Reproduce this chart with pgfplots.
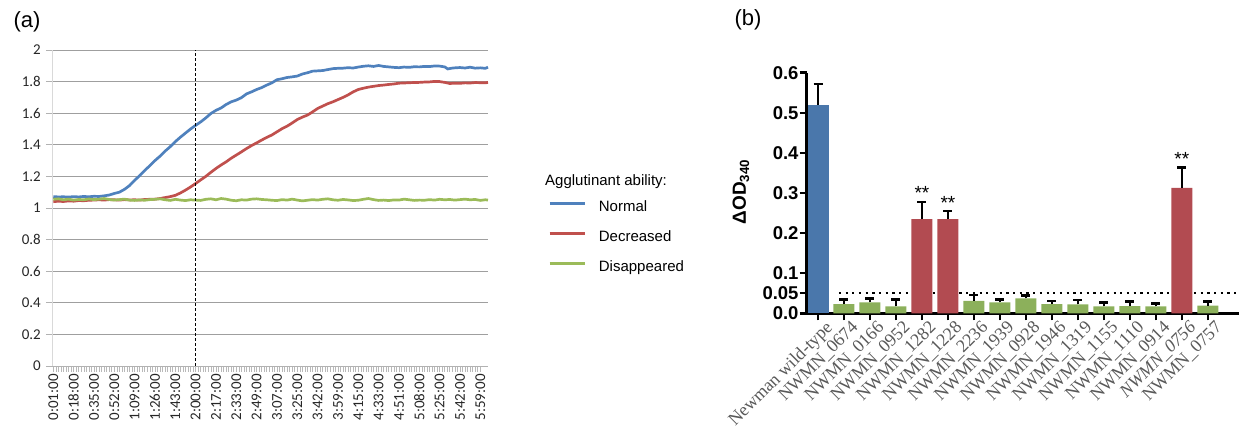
\documentclass[border=0pt]{standalone}
\usepackage{pgfplots}
\pgfplotsset{compat=1.18}
\usepackage{fontspec}
\setmainfont{Liberation Sans}
\newfontfamily\calibri{Carlito}
\newfontfamily\timesf{Liberation Serif}
\definecolor{xlblue}{HTML}{4F81BD}
\definecolor{xlred}{HTML}{C0504D}
\definecolor{xlgreen}{HTML}{9BBB59}
\definecolor{pbblue}{HTML}{4A77AB}
\definecolor{pbred}{HTML}{B24B51}
\definecolor{pbgreen}{HTML}{8CB05B}
\begin{document}
\begin{tikzpicture}
% ---------------- (a) ----------------
\begin{axis}[
  name=A, scale only axis, width=436pt, height=316pt,
  at={(52pt,69pt)}, anchor=south west,
  xmin=-0.064, xmax=21.38, ymin=0, ymax=2,
  axis lines*=left, axis line style={-},
  x axis line style={draw=gray!60, line width=0.8pt},
  y axis line style={draw=gray!30, line width=0.8pt},
  ytick={0,0.2,0.4,0.6,0.8,1,1.2,1.4,1.6,1.8,2},
  yticklabels={0,0.2,0.4,0.6,0.8,1,1.2,1.4,1.6,1.8,2},
  ymajorgrids, major grid style={draw=gray!75, line width=0.9pt},
  xtick={0,...,21},
  xticklabels={0:01:00,0:18:00,0:35:00,0:52:00,1:09:00,1:26:00,1:43:00,2:00:00,2:17:00,2:33:00,2:49:00,3:07:00,3:25:00,3:42:00,3:59:00,4:15:00,4:33:00,4:51:00,5:08:00,5:25:00,5:42:00,5:59:00},
  minor x tick num=7,
  tick align=outside, major tick length=6pt, minor tick length=6pt,
  x tick style={draw=gray!55, line width=0.6pt},
  y tick style={draw=gray!60, line width=0.8pt},
  xticklabel style={rotate=90, anchor=east, font=\calibri\fontsize{15}{18}\selectfont, text=black!85, inner sep=2pt},
  yticklabel style={font=\calibri\fontsize{15}{18}\selectfont, text=black!85, inner sep=2pt, xshift=-3pt},
  legend style={at={(1.1376,0.524)}, anchor=north west, draw=none, fill=none,
    font=\fontsize{15}{18}\selectfont, inner sep=0pt,
    nodes={inner sep=0pt, text height=11pt, text depth=4pt},
    row sep=15pt},
  legend cell align=left,
  legend image code/.code={\draw[#1] (0pt,4.5pt) -- (35pt,4.5pt); \path (48pt,4.5pt);},
  clip=false,
]
\addplot[xlblue, line width=2.7pt] coordinates {
(0,1.072)(0.25,1.070)(0.5,1.071)(0.75,1.069)(1,1.072)(1.25,1.070)(1.5,1.073)(1.75,1.071)(2,1.074)(2.25,1.073)(2.5,1.077)(2.75,1.082)(3,1.092)(3.25,1.100)(3.5,1.118)(3.75,1.142)(4,1.175)(4.25,1.205)(4.5,1.238)(4.75,1.268)(5,1.300)(5.25,1.328)(5.5,1.360)(5.75,1.388)(6,1.420)(6.25,1.448)(6.5,1.474)(6.75,1.500)(7,1.523)(7.25,1.545)(7.5,1.570)(7.75,1.598)(8,1.618)(8.25,1.633)(8.5,1.655)(8.75,1.672)(9,1.683)(9.25,1.698)(9.5,1.722)(9.75,1.735)(10,1.750)(10.25,1.762)(10.5,1.778)(10.75,1.792)(11,1.812)(11.25,1.818)(11.5,1.826)(11.75,1.830)(12,1.835)(12.25,1.848)(12.5,1.856)(12.75,1.866)(13,1.868)(13.25,1.870)(13.5,1.876)(13.75,1.882)(14,1.884)(14.25,1.885)(14.5,1.888)(14.75,1.886)(15,1.892)(15.25,1.897)(15.5,1.900)(15.75,1.896)(16,1.902)(16.25,1.896)(16.5,1.893)(16.75,1.890)(17,1.888)(17.25,1.892)(17.5,1.890)(17.75,1.894)(18,1.893)(18.25,1.896)(18.5,1.895)(18.75,1.899)(19,1.898)(19.25,1.893)(19.4,1.880)(19.6,1.885)(19.75,1.887)(20,1.889)(20.25,1.886)(20.5,1.891)(20.75,1.885)(21,1.887)(21.25,1.884)(21.38,1.891)};
\addlegendentry{Normal}
\addplot[xlred, line width=2.7pt] coordinates {
(0,1.040)(0.25,1.043)(0.5,1.041)(0.75,1.045)(1,1.043)(1.25,1.047)(1.5,1.046)(1.75,1.049)(2,1.050)(2.25,1.052)(2.5,1.050)(2.75,1.053)(3,1.052)(3.25,1.050)(3.5,1.053)(3.75,1.051)(4,1.052)(4.25,1.050)(4.5,1.054)(4.75,1.055)(5,1.056)(5.25,1.060)(5.5,1.066)(5.75,1.072)(6,1.080)(6.25,1.095)(6.5,1.113)(6.75,1.133)(7,1.155)(7.25,1.178)(7.5,1.200)(7.75,1.226)(8,1.250)(8.25,1.272)(8.5,1.292)(8.75,1.315)(9,1.335)(9.25,1.355)(9.5,1.376)(9.75,1.395)(10,1.412)(10.25,1.430)(10.5,1.447)(10.75,1.462)(11,1.482)(11.25,1.502)(11.5,1.518)(11.75,1.538)(12,1.560)(12.25,1.575)(12.5,1.588)(12.75,1.608)(13,1.630)(13.25,1.645)(13.5,1.660)(13.75,1.672)(14,1.686)(14.25,1.700)(14.5,1.716)(14.75,1.735)(15,1.750)(15.25,1.758)(15.5,1.765)(15.75,1.770)(16,1.775)(16.25,1.778)(16.5,1.782)(16.75,1.785)(17,1.790)(17.25,1.791)(17.5,1.793)(17.75,1.794)(18,1.795)(18.25,1.797)(18.5,1.798)(18.75,1.801)(19,1.800)(19.25,1.795)(19.5,1.788)(19.75,1.790)(20,1.789)(20.25,1.792)(20.5,1.791)(20.75,1.794)(21,1.793)(21.25,1.792)(21.38,1.795)};
\addlegendentry{Decreased}
\addplot[xlgreen, line width=2.7pt] coordinates {
(0,1.055)(0.25,1.058)(0.5,1.052)(0.75,1.056)(1,1.050)(1.25,1.054)(1.5,1.052)(1.75,1.057)(2,1.053)(2.25,1.056)(2.5,1.060)(2.75,1.054)(3,1.050)(3.25,1.053)(3.5,1.056)(3.75,1.050)(4,1.048)(4.25,1.051)(4.5,1.049)(4.75,1.053)(5,1.055)(5.25,1.058)(5.5,1.052)(5.75,1.048)(6,1.055)(6.25,1.050)(6.5,1.047)(6.75,1.052)(7,1.050)(7.25,1.048)(7.5,1.055)(7.75,1.058)(8,1.052)(8.25,1.060)(8.5,1.056)(8.75,1.049)(9,1.046)(9.25,1.052)(9.5,1.050)(9.75,1.056)(10,1.058)(10.25,1.054)(10.5,1.052)(10.75,1.049)(11,1.047)(11.25,1.053)(11.5,1.050)(11.75,1.056)(12,1.050)(12.25,1.045)(12.5,1.049)(12.75,1.053)(13,1.050)(13.25,1.055)(13.5,1.058)(13.75,1.052)(14,1.049)(14.25,1.054)(14.5,1.051)(14.75,1.047)(15,1.049)(15.25,1.055)(15.5,1.060)(15.75,1.053)(16,1.048)(16.25,1.050)(16.5,1.047)(16.75,1.051)(17,1.050)(17.25,1.056)(17.5,1.052)(17.75,1.048)(18,1.050)(18.25,1.049)(18.5,1.053)(18.75,1.050)(19,1.055)(19.25,1.052)(19.5,1.054)(19.75,1.050)(20,1.053)(20.25,1.056)(20.5,1.052)(20.75,1.054)(21,1.048)(21.25,1.052)(21.38,1.050)};
\addlegendentry{Disappeared}
\addplot[black, line width=1pt, dash pattern=on 3pt off 2pt, forget plot] coordinates {(7,0) (7,2)};
\end{axis}
\node[anchor=west, inner sep=0pt, font=\fontsize{15}{18}\selectfont] at (545pt,253pt) {Agglutinant ability:};
\node[font=\fontsize{22}{26}\selectfont] at (27pt,413pt) {(a)};
\node[font=\fontsize{22}{26}\selectfont] at (748pt,415pt) {(b)};
% ---------------- (b) ----------------
\begin{axis}[
  name=B, scale only axis, width=432pt, height=240.6pt,
  at={(806.7pt,121.7pt)}, anchor=south west,
  xmin=-0.435, xmax=16.19, ymin=0, ymax=0.6,
  axis lines*=left, axis line style={-, line width=2.5pt, black},
  ytick={0,0.05,0.1,0.2,0.3,0.4,0.5,0.6},
  yticklabels={0.0,0.05,0.1,0.2,0.3,0.4,0.5,0.6},
  xtick={0,...,15},
  xticklabels={Newman wild-type,NWMN\_0674,NWMN\_0166,NWMN\_0952,NWMN\_1282,NWMN\_1228,NWMN\_2236,NWMN\_1939,NWMN\_0928,NWMN\_1946,NWMN\_1319,NWMN\_1155,NWMN\_1110,NWMN\_0914,\textit{NWMN\_0756},NWMN\_0757},
  tick align=outside, major tick length=7pt,
  tick style={black, line width=2.5pt},
  xticklabel style={rotate=45, anchor=north east, font=\timesf\fontsize{18}{20}\selectfont, text=black!65, inner sep=1pt, xshift=6pt, yshift=-3pt},
  yticklabel style={font=\bfseries\fontsize{18.5}{21}\selectfont, inner sep=1pt},
  clip=false,
]
\addplot[black, line width=2.2pt, dash pattern=on 2.2pt off 4.5pt, forget plot] coordinates {(0.8,0.05) (16.19,0.05)};
\addplot[ybar, bar width=21pt, bar shift=0pt, fill=pbblue, draw=none,
  error bars/.cd, y dir=plus, y explicit,
  error bar style={line width=2.5pt, black},
  error mark options={rotate=90, mark size=4.5pt, line width=2.5pt, black}]
  coordinates {(0,0.520) +- (0,0.052)};
\addplot[ybar, bar width=21pt, bar shift=0pt, fill=pbred, draw=none,
  error bars/.cd, y dir=plus, y explicit,
  error bar style={line width=2.5pt, black},
  error mark options={rotate=90, mark size=4.5pt, line width=2.5pt, black}]
  coordinates {(4,0.235) +- (0,0.042) (5,0.235) +- (0,0.020) (14,0.313) +- (0,0.050)};
\addplot[ybar, bar width=21pt, bar shift=0pt, fill=pbgreen, draw=none,
  error bars/.cd, y dir=plus, y explicit,
  error bar style={line width=2.5pt, black},
  error mark options={rotate=90, mark size=4.5pt, line width=2.5pt, black}]
  coordinates {(1,0.023) +- (0,0.012) (2,0.027) +- (0,0.010) (3,0.017) +- (0,0.018) (6,0.031) +- (0,0.015) (7,0.027) +- (0,0.008) (8,0.037) +- (0,0.007) (9,0.023) +- (0,0.008) (10,0.022) +- (0,0.011) (11,0.017) +- (0,0.010) (12,0.018) +- (0,0.011) (13,0.017) +- (0,0.008) (15,0.019) +- (0,0.010)};
\node[font=\fontsize{19}{21}\selectfont] at (axis cs:4,0.300) {**};
\node[font=\fontsize{19}{21}\selectfont] at (axis cs:5,0.276) {**};
\node[font=\fontsize{19}{21}\selectfont] at (axis cs:14,0.386) {**};
\end{axis}
\node[rotate=90, font=\bfseries\fontsize{19}{22}\selectfont] at (741pt,243pt) {ΔOD\textsubscript{340}};
\pgfresetboundingbox
\path[use as bounding box] (0,0) rectangle (1239pt,435pt);
\end{tikzpicture}
\end{document}
